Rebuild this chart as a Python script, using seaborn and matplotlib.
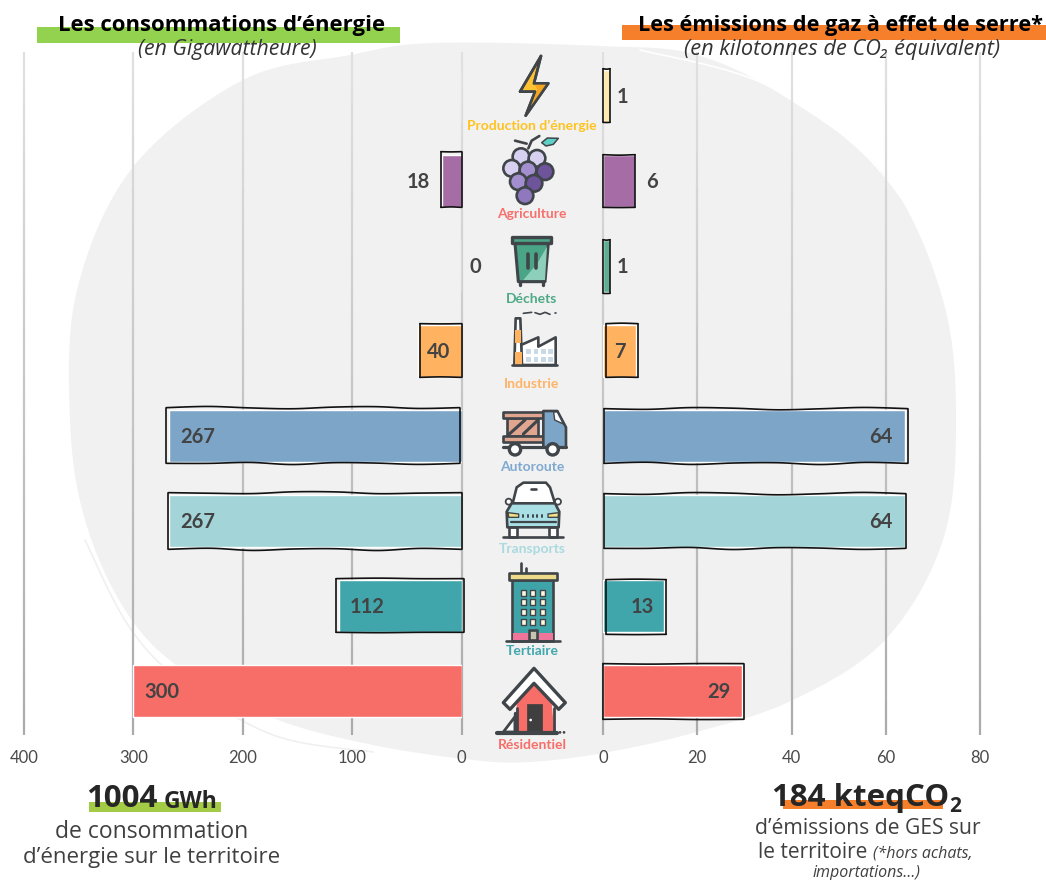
import numpy as np
import pandas as pd
import seaborn as sns
import matplotlib
matplotlib.use("Agg")
import matplotlib.pyplot as plt
from matplotlib.patches import Polygon, Circle, Rectangle

# donnees du graphique
secteurs = ["Production d’énergie", "Agriculture", "Déchets", "Industrie",
            "Autoroute", "Transports", "Tertiaire", "Résidentiel"]
conso_gwh = [0, 18, 0, 40, 267, 267, 112, 300]
ges_kt = [1.5, 6.8, 1.5, 7, 64, 64, 13, 29.4]
conso_labels = ["", "18", "0", "40", "267", "267", "112", "300"]
ges_labels = ["1", "6", "1", "7", "64", "64", "13", "29"]
conso_ticks = [400, 300, 200, 100, 0]
ges_ticks = [0, 20, 40, 60, 80]

bar_colors = ["#fde8ae", "#a56ca5", "#5fae93", "#ffb25f",
              "#7da5c8", "#a2d4d8", "#40a6ac", "#f76d68"]
label_colors = ["#ffc31f", "#f7706c", "#4ea985", "#ffb366",
                "#7fa9cf", "#a9dadf", "#41a7ad", "#f76d68"]

W, H = 1046, 880
INK = "#40454a"
TXT = "#434343"
GOTHIC = ["Open Sans", "DejaVu Sans"]

sns.set_theme(style="white")
plt.rcParams["font.family"] = ["Lato", "DejaVu Sans"]

df = pd.DataFrame({"secteur": secteurs, "conso": conso_gwh, "ges": ges_kt})


def px_axes(fig, x0, y0, x1, y1, **kw):
    # axes places en pixels, origine en haut a gauche
    return fig.add_axes([x0 / W, 1 - y1 / H, (x1 - x0) / W, (y1 - y0) / H], **kw)


def smooth(points, closed=False, n=14):
    # catmull-rom pour les contours dessines a la main
    p = np.array(points, dtype=float)
    if closed:
        p = np.vstack([p[-1], p, p[0], p[1]])
    else:
        p = np.vstack([p[0], p, p[-1]])
    out = []
    for i in range(1, len(p) - 2):
        for t in np.linspace(0, 1, n, endpoint=False):
            out.append(0.5 * (2 * p[i] + (p[i + 1] - p[i - 1]) * t
                              + (2 * p[i - 1] - 5 * p[i] + 4 * p[i + 1] - p[i + 2]) * t ** 2
                              + (3 * p[i] - p[i - 1] - 3 * p[i + 1] + p[i + 2]) * t ** 3))
    if not closed:
        out.append(p[-2])
    return np.array(out)


def draw_side(ax, col, ticks, xlim):
    for t in ticks:
        ys = np.linspace(-0.52, 7.52, 41)
        for k in range(40):
            g = 0.88 - 0.21 * k / 39
            ax.plot([t, t], [ys[k], ys[k + 1]], color=(g, g, g), lw=1.6,
                    solid_capstyle="butt", zorder=0, clip_on=False)
    sns.barplot(data=df, y="secteur", x=col, hue="secteur", palette=bar_colors,
                legend=False, dodge=False, width=0.62, saturation=1, ax=ax, zorder=2)
    ax.set_xlim(*xlim)
    ax.set_ylim(7.518, -0.518)
    ax.set_facecolor("none")
    ax.set_xlabel("")
    ax.set_ylabel("")
    ax.set_yticks([])
    ax.set_xticks(ticks)
    ax.set_xticklabels([str(t) for t in ticks])
    ax.tick_params(axis="x", length=0, pad=11, labelsize=12, labelcolor="#4a4a4a")
    sns.despine(ax=ax, left=True, bottom=True)


def outlines(ax, ov, offsets):
    fig.canvas.draw()
    for p in ax.patches:
        i = int(round(p.get_y() + p.get_height() / 2))
        off = offsets[i]
        if off is None:
            continue
        b = p.get_window_extent()
        x0, x1 = b.x0 + off[0], b.x1 + off[1]
        y0, y1 = H - b.y1 + off[2], H - b.y0 + off[3]
        n = max(2, int((x1 - x0) / 40))
        xs = np.linspace(x0, x1, n + 1)
        amp = 1.2 if n > 3 else 0.5
        top = [(x, y0 + (amp * np.sin(1.7 * j + x0) if 0 < j < n else 0)) for j, x in enumerate(xs)]
        bot = [(x, y1 + (amp * np.sin(2.3 * j + x1) if 0 < j < n else 0)) for j, x in enumerate(xs)]
        for seg in (top, bot):
            s = smooth(seg)
            ov.plot(s[:, 0], s[:, 1], color="#111111", lw=1.2, zorder=3)
        ov.plot([x0, x0], [y0, y1], color="#111111", lw=1.2, zorder=3)
        ov.plot([x1, x1], [y0, y1], color="#111111", lw=1.2, zorder=3)


def value_labels(ax, labels, shifts, vals):
    for i, lab in enumerate(labels):
        if lab:
            ax.annotate(lab, xy=(vals[i], i), xytext=(shifts[i], -1), textcoords="offset pixels",
                        ha="center", va="center", fontsize=14.5, fontweight="bold",
                        color=TXT, zorder=5, annotation_clip=False)


def zp(org, pts):
    return [(org[0] + x / 3, org[1] + y / 3) for x, y in pts]


def poly(ov, org, pts, fc, ec=INK, lw=1.9):
    ov.add_patch(Polygon(zp(org, pts), closed=True, fc=fc, ec=ec, lw=lw, joinstyle="round", zorder=4))


def box(ov, org, x0, y0, x1, y1, fc, ec=INK, lw=1.9):
    poly(ov, org, [(x0, y0), (x1, y0), (x1, y1), (x0, y1)], fc, ec, lw)


def line(ov, org, pts, lw=1.9, c=INK):
    a = np.array(zp(org, pts))
    ov.plot(a[:, 0], a[:, 1], color=c, lw=lw, solid_capstyle="round", zorder=4)


def dot(ov, org, x, y, r, fc, ec=INK, lw=1.9):
    c = zp(org, [(x, y)])[0]
    ov.add_patch(Circle(c, r / 3, fc=fc, ec=ec, lw=lw, zorder=4))


def draw_icons(ov):
    z2 = (460, 50)
    z3 = (460, 400)
    # eclair
    poly(ov, z2, [(243, 18), (180, 125), (225, 125), (197, 197), (265, 100), (222, 100)], "#ffc233")
    poly(ov, z2, [(222, 100), (265, 100), (197, 197), (232, 118)], "#f5a623", ec="none", lw=0)
    line(ov, z2, [(243, 18), (180, 125), (225, 125), (197, 197), (265, 100), (222, 100), (243, 18)])
    # raisin
    line(ov, z2, [(205, 295), (215, 272), (238, 258)])
    line(ov, z2, [(165, 272), (200, 281)])
    poly(ov, z2, [(245, 278), (262, 264), (295, 265), (280, 283), (258, 288)], "#5fd0c5", lw=1.1)
    grapes = [(183, 320, "#d8d0f0"), (231, 325, "#d8d0f0"), (155, 355, "#d8d0f0"),
              (204, 360, "#a38fd0"), (255, 365, "#6d549b"), (175, 395, "#a38fd0"),
              (222, 400, "#6d549b"), (195, 437, "#8f78bd")]
    for x, y, c in grapes:
        dot(ov, z2, x, y, 25, c)
    # poubelle
    poly(ov, z2, [(165, 580), (265, 580), (255, 695), (175, 695)], "#4aa586", lw=2.2)
    poly(ov, z2, [(232, 640), (261, 590), (255, 690), (190, 690)], "#8dcfba", ec="none", lw=0)
    box(ov, z2, 157, 562, 273, 580, "#4aa586", lw=2.4)
    line(ov, z2, [(203, 612), (203, 655)], lw=2.6)
    line(ov, z2, [(228, 612), (228, 655)], lw=2.6)
    line(ov, z2, [(180, 698), (180, 706)], lw=2.4)
    line(ov, z2, [(250, 698), (250, 706)], lw=2.4)
    # usine
    poly(ov, z2, [(183, 945), (183, 885), (235, 862), (235, 890), (287, 862), (287, 945)], "white")
    for wx in (205, 228, 250, 272):
        for wy in (905, 928):
            box(ov, z2, wx - 7, wy - 7, wx + 7, wy + 7, "#c9d9e6", ec="none", lw=0)
    poly(ov, z2, [(167, 805), (181, 805), (186, 945), (163, 945)], "white")
    box(ov, z2, 165, 840, 183, 880, "#ffb25f", ec="none", lw=0)
    box(ov, z2, 165, 905, 186, 944, "#ffb25f", ec="none", lw=0)
    line(ov, z2, [(155, 945), (290, 945)])
    line(ov, z2, [(190, 790), (215, 787)], lw=1.2)
    line(ov, z2, [(225, 788), (240, 793), (255, 787), (270, 793)], lw=1.2)
    line(ov, z2, [(284, 790), (288, 790)], lw=1.2)
    # camion
    box(ov, z3, 140, 55, 235, 108, "#e0a68f")
    line(ov, z3, [(148, 102), (195, 60)], lw=2.2)
    line(ov, z3, [(190, 102), (232, 62)], lw=2.2)
    box(ov, z3, 128, 35, 248, 55, "#e0a68f")
    box(ov, z3, 128, 108, 248, 125, "#e0a68f")
    poly(ov, z3, [(250, 33), (292, 33), (318, 82), (318, 142), (250, 142)], "#7da5c8")
    poly(ov, z3, [(281, 36), (292, 36), (310, 72), (284, 60)], "white", lw=1)
    line(ov, z3, [(128, 142), (318, 142)], lw=2.3)
    dot(ov, z3, 165, 148, 17, "white", lw=2.4)
    dot(ov, z3, 278, 148, 17, "white", lw=2.4)
    # voiture
    poly(ov, z3, [(158, 310), (170, 262), (190, 248), (258, 248), (270, 262), (285, 310)], "white")
    line(ov, z3, [(212, 268), (228, 268)])
    box(ov, z3, 148, 380, 172, 410, "white")
    box(ov, z3, 268, 380, 292, 410, "white")
    poly(ov, z3, [(155, 310), (285, 310), (298, 335), (296, 382), (142, 382), (140, 335)], "#a9e0e6")
    poly(ov, z3, [(144, 338), (176, 342), (176, 352), (146, 352)], "#f5e08a", lw=1)
    poly(ov, z3, [(296, 338), (264, 342), (264, 352), (294, 352)], "#f5e08a", lw=1)
    for x in (190, 204, 218, 232, 246):
        line(ov, z3, [(x, 344), (x, 352)], lw=1.4)
    line(ov, z3, [(152, 367), (288, 367)], lw=1.6)
    dot(ov, z3, 146, 305, 9, "white", lw=1.3)
    dot(ov, z3, 294, 305, 9, "white", lw=1.3)
    line(ov, z3, [(130, 411), (310, 411)])
    # immeuble
    line(ov, z3, [(182, 490), (182, 518)])
    line(ov, z3, [(198, 503), (198, 518)])
    box(ov, z3, 157, 540, 280, 722, "#3fa4a8")
    box(ov, z3, 160, 700, 278, 720, "#f0759a", ec="none", lw=0)
    box(ov, z3, 148, 518, 290, 540, "#ecd98a")
    for wy in (578, 607, 637, 667):
        for wx in (190, 218, 247):
            box(ov, z3, wx - 8, wy - 9, wx + 8, wy + 9, "#fdf8e0", lw=1)
    box(ov, z3, 207, 690, 230, 721, "#c8c3b0")
    line(ov, z3, [(137, 722), (300, 722)])
    # maison
    poly(ov, z3, [(222, 852), (275, 908), (283, 996), (170, 996), (170, 908)], "#f76d68", ec="none", lw=0)
    poly(ov, z3, [(222, 805), (316, 908), (296, 928), (222, 850), (150, 928), (130, 908)], "white", lw=2.4)
    line(ov, z3, [(170, 925), (170, 996)], lw=2)
    line(ov, z3, [(283, 925), (283, 996)], lw=2)
    box(ov, z3, 201, 912, 246, 996, "#3f3f3f", ec="#3f3f3f", lw=0.5)
    dot(ov, z3, 212, 960, 4, "white", ec="none", lw=0)
    poly(ov, z3, [(130, 996), (165, 950), (165, 996)], "white", lw=2)
    line(ov, z3, [(165, 938), (165, 996)], lw=2.4)
    line(ov, z3, [(110, 998), (292, 998)], lw=3)
    dot(ov, z3, 312, 997, 3, INK, lw=0.5)
    dot(ov, z3, 300, 997, 3, INK, lw=0.5)


fig = plt.figure(figsize=(W / 100, H / 100), dpi=100, facecolor="white")

bg = px_axes(fig, 0, 0, W, H, zorder=0)
bg.set_xlim(0, W)
bg.set_ylim(H, 0)
bg.axis("off")

# tache grise de fond
blob = [(433, 43), (600, 46), (697, 55), (790, 100), (887, 178), (943, 300), (956, 420),
        (943, 540), (885, 640), (793, 700), (693, 733), (603, 753), (530, 762), (473, 760),
        (373, 745), (273, 718), (180, 668), (125, 610), (85, 520), (70, 420), (77, 290),
        (133, 167), (243, 80), (350, 55)]
s = smooth(blob, closed=True)
bg.add_patch(Polygon(s, closed=True, fc="#f1f1f1", ec="none"))
arc1 = smooth([(85, 540), (128, 625), (180, 680), (273, 735), (373, 752)])
bg.plot(arc1[:, 0], arc1[:, 1], color="#f0f0f0", lw=1.2)
arc2 = smooth([(640, 50), (760, 82), (860, 150), (925, 235), (945, 300)])
bg.plot(arc2[:, 0], arc2[:, 1], color="white", lw=1.2)

# bandeaux de couleur sous les titres
bg.add_patch(Rectangle((37, 27), 363, 16, fc="#93d24f", ec="none"))
bg.add_patch(Rectangle((622, 25), 424, 15, fc="#f67f2c", ec="none"))
bg.add_patch(Rectangle((89, 802), 132, 10, fc="#a3cb45", ec="none"))
bg.add_patch(Rectangle((783, 800), 160, 9, fc="#f67f2c", ec="none"))

ax_l = px_axes(fig, 24, 52, 461.5, 735, zorder=1)
ax_r = px_axes(fig, 603, 52, 980, 735, zorder=1)
draw_side(ax_l, "conso", conso_ticks, (400, 0))
draw_side(ax_r, "ges", ges_ticks, (0, 80))

ov = px_axes(fig, 0, 0, W, H, zorder=2)
ov.set_xlim(0, W)
ov.set_ylim(H, 0)
ov.axis("off")

# contours crayonnes, decales par rapport aux barres
off_l = [None, (-1, 0, -3, 0), None, (2, 0, -1, 0), (-3, -2, -2, 1),
         (-1, 0, -2, 2), (-3, 2, -1, 0), None]
off_r = [(0, 0, -1, 0), (0, 0, 0, 0), (0, 0, 0, 1), (3, 2, -1, 0), (1, 3, -1, 1),
         (1, 1, -1, 1), (3, 2, 0, 2), (0, 2, -1, 2)]
outlines(ax_l, ov, off_l)
outlines(ax_r, ov, off_r)

value_labels(ax_l, conso_labels, [0, -24, 14, 21, 28, 28, 28, 28], conso_gwh)
value_labels(ax_r, ges_labels, [12, 17, 12, -16, -24, -24, -22, -23], ges_kt)

label_y = [126, 214, 299, 384, 467, 549, 651, 745]
for name, y, c in zip(secteurs, label_y, label_colors):
    ov.text(532, y, name, ha="center", va="center", fontsize=10, fontweight="bold", color=c, zorder=5)

draw_icons(ov)


def gothic(x, y, txt, size, **kw):
    ov.text(x, y, txt, ha="center", va="center", fontsize=size, family=GOTHIC, zorder=5, **kw)


gothic(222, 25, "Les consommations d’énergie", 15.9, fontweight="bold", color="black")
gothic(227, 50, "(en Gigawattheure)", 15.3, style="italic", color="#333333")
gothic(840, 25, "Les émissions de gaz à effet de serre*", 15.7, fontweight="bold", color="black")
gothic(842, 50, "(en kilotonnes de CO₂ équivalent)", 15.7, style="italic", color="#333333")

gothic(122, 799, "1004", 22.5, fontweight="bold", color="#262626")
gothic(191, 802, "GWh", 16.5, fontweight="bold", color="#262626")
gothic(152, 832, "de consommation", 16.5, color="#404040")
gothic(152, 858, "d’énergie sur le territoire", 16, color="#404040")

gothic(861, 798, "184 kteqCO", 22.5, fontweight="bold", color="#262626")
gothic(955, 807, "2", 15, fontweight="bold", color="#262626")
gothic(868, 828, "d’émissions de GES sur", 15.2, color="#404040")
gothic(813, 852, "le territoire", 15, color="#404040")
gothic(923, 854, "(*hors achats,", 11.5, style="italic", color="#404040")
gothic(866, 873, "importations…)", 11.5, style="italic", color="#404040")

fig.savefig("out.png", dpi=100)
